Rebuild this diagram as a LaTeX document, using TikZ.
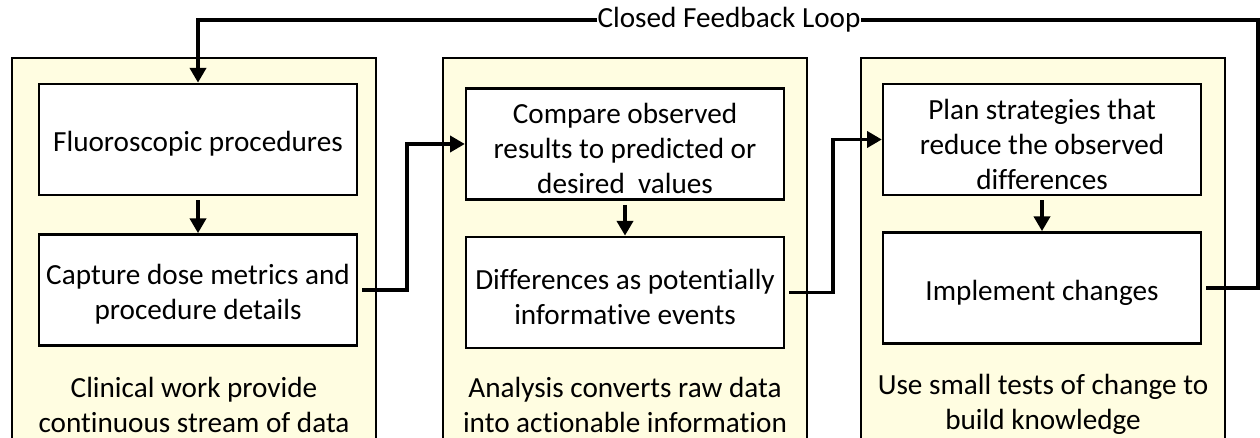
\documentclass[tikz,border=0pt]{standalone}
\usepackage{fontspec}
\setmainfont[Ligatures={NoCommon}]{Carlito}
\usetikzlibrary{arrows.meta,calc}
\definecolor{panelfill}{RGB}{255,253,225}
\tikzset{
  panel/.style={draw=black, line width=1.6pt, fill=panelfill},
  stepbox/.style={draw=black, line width=1.8pt, fill=white, minimum width=238.5pt, minimum height=83.5pt, inner sep=0pt,
    label={[boxtext]center:{#1}}},
  boxtext/.style={align=center, inner sep=0pt, yshift=-3.5pt, font=\fontsize{21.9}{26.25}\selectfont},
  paneltext/.style={align=center, font=\fontsize{21.9}{26.25}\selectfont},
  conn/.style={line width=2.6pt, -{Triangle[length=11pt,width=12pt]}, line join=miter},
  plain/.style={line width=2.6pt, line join=miter}
}
\begin{document}
\begin{tikzpicture}[x=0.75pt,y=-0.75pt]
\useasboundingbox (0,0) rectangle (1260,438);
\clip (0,0) rectangle (1260,438);
% panels
\draw[panel] (12,58) rectangle (376,460);
\draw[panel] (443,58) rectangle (807,460);
\draw[panel] (861,58) rectangle (1225,460);
% step boxes
\node[stepbox={Fluoroscopic procedures}] (a1) at (198,139.5) {};
\node[stepbox={Capture dose metrics and\\procedure details}] (a2) at (198,290) {};
\node[stepbox={Compare observed\\results to predicted or\\desired\ \ values}] (b1) at (625,144) {};
\node[stepbox={Differences as potentially\\informative events}] (b2) at (625,292.5) {};
\node[stepbox={Plan strategies that\\reduce the observed\\differences}] (c1) at (1042,139.5) {};
\node[stepbox={Implement changes}] (c2) at (1042,288) {};
% panel labels
\node[paneltext] (la) at (194,404.5) {Clinical work provide\\continuous stream of data};
\node[paneltext] (lb) at (625,404.5) {Analysis converts raw data\\into actionable information};
\node[paneltext] (lc) at (1043,404.5) {Use small tests of change to\\build knowledge};
% vertical arrows
\draw[conn] (a1.south) ++(0,4) -- (a2.north);
\draw[conn] (b1.south) ++(0,4) -- (b2.north);
\draw[conn] (c1.south) ++(0,4) -- (c2.north);
% cross-panel connectors
\coordinate (ja) at (407,290);
\coordinate (jb) at (833,292.5);
\coordinate (jc) at (1258,288);
\draw[conn] ([xshift=3pt]a2.east) -- (ja) |- (b1.west);
\draw[conn] ([xshift=3pt]b2.east) -- (jb) |- (c1.west);
% feedback loop
\coordinate (top) at (1258,20);
\coordinate (topl) at (198,20);
\node[inner sep=0pt, font=\fontsize{21.9}{24}\selectfont] (fb) at (729,20) {Closed Feedback Loop};
\draw[plain] ([xshift=3pt]c2.east) -- (jc) -- (top) -- (fb.east);
\draw[conn] (fb.west) -- (topl) -- (a1.north);
\end{tikzpicture}
\end{document}
